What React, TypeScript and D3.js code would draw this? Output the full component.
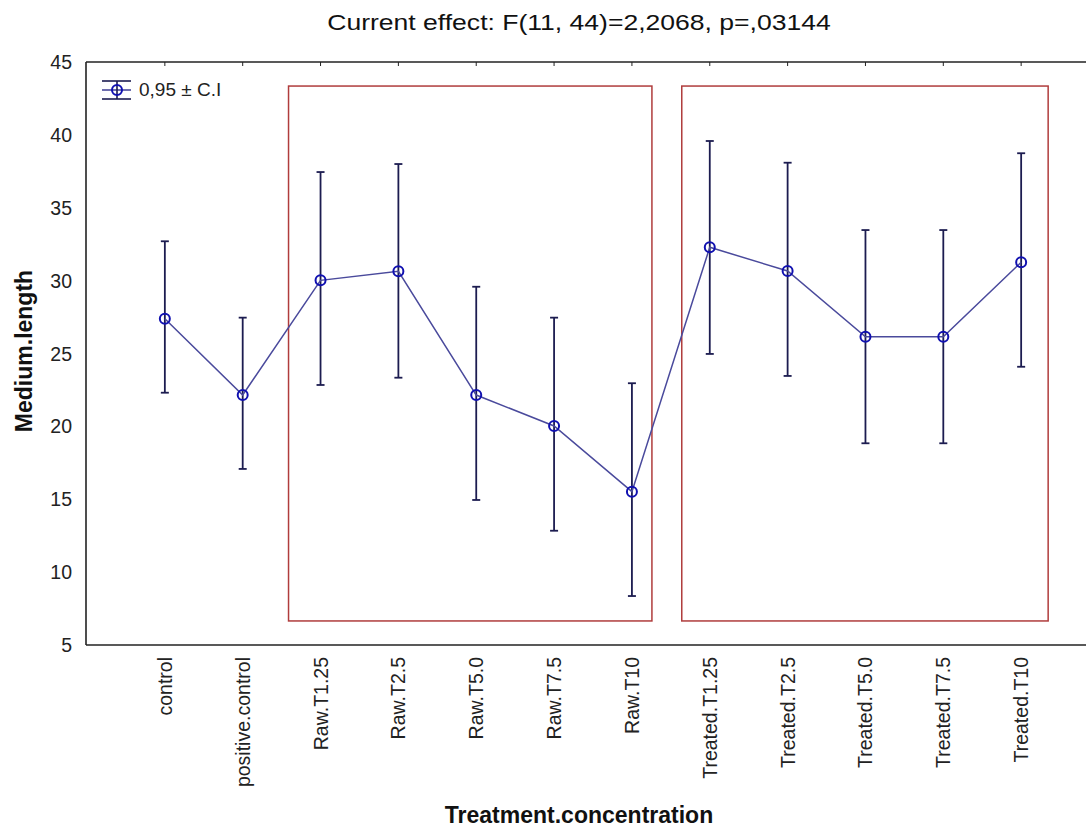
import React from "react";
import * as d3 from "d3";

const categories = [
  "control",
  "positive.control",
  "Raw.T1.25",
  "Raw.T2.5",
  "Raw.T5.0",
  "Raw.T7.5",
  "Raw.T10",
  "Treated.T1.25",
  "Treated.T2.5",
  "Treated.T5.0",
  "Treated.T7.5",
  "Treated.T10",
];
const means = [27.39, 22.15, 30.02, 30.64, 22.15, 20.03, 15.52, 32.29, 30.66, 26.15, 26.15, 31.26];
const upper = [32.7, 27.46, 37.45, 38.0, 29.58, 27.46, 22.96, 39.58, 38.09, 33.47, 33.47, 38.74];
const lower = [22.31, 17.08, 22.84, 23.34, 14.95, 12.84, 8.36, 24.97, 23.46, 18.84, 18.84, 24.09];
const yTicks = [5, 10, 15, 20, 25, 30, 35, 40, 45];
const groupBoxes = [
  { from: "Raw.T1.25", to: "Raw.T10", top: 43.35, bottom: 6.65 },
  { from: "Treated.T1.25", to: "Treated.T10", top: 43.35, bottom: 6.65 },
];
const title = "Current effect: F(11, 44)=2,2068, p=,03144";
const yLabel = "Medium.length";
const xLabel = "Treatment.concentration";
const legendLabel = "0,95 ± C.I";

const W = 1086;
const H = 827;
const left = 86;
const top = 62;
const bottom = 645;
const right = 1099;
const FONT = "'Liberation Sans', Arial, sans-serif";

export default function App() {
  const x = d3.scalePoint<string>().domain(categories).range([left + 1, right]).padding(1);
  const y = d3.scaleLinear().domain([5, 45]).range([bottom, top]);
  const line = d3
    .line<number>()
    .x((_, i) => x(categories[i]) as number)
    .y((d) => y(d));
  const lineColor = "#4a4a9c";
  const markColor = "#1010b0";
  const barColor = "#1c1c50";
  const boxColor = "#b03c3c";

  return (
    <svg
      width={W}
      height={H}
      style={{ position: "absolute", left: 0, top: 0, background: "#fff" }}
      fontFamily={FONT}
    >
      <rect x={0} y={0} width={W} height={H} fill="#fff" />
      {/* title */}
      <text
        transform="translate(579,30) scale(1.18,1)"
        textAnchor="middle"
        fontSize={22.5}
        fill="#111"
      >
        {title}
      </text>
      {/* group boxes */}
      {groupBoxes.map((b, i) => {
        const x0 = (x(b.from) as number) - 32;
        const x1 = (x(b.to) as number) + 20;
        const adj = i === 1 ? { l: 4, r: 7 } : { l: 0, r: 0 };
        return (
          <rect
            key={i}
            x={x0 + adj.l}
            y={y(b.top)}
            width={x1 - x0 - adj.l + adj.r}
            height={y(b.bottom) - y(b.top)}
            fill="none"
            stroke={boxColor}
            strokeWidth={1.5}
          />
        );
      })}
      {/* axes frame */}
      <line x1={left} x2={left} y1={top} y2={bottom} stroke="#222" strokeWidth={1.6} />
      <line x1={left} x2={W} y1={top} y2={top} stroke="#222" strokeWidth={1.6} />
      <line x1={left} x2={W} y1={bottom} y2={bottom} stroke="#222" strokeWidth={1.6} />
      {categories.map((c) => (
        <line key={"tt" + c} x1={x(c)} x2={x(c)} y1={top} y2={top + 4} stroke="#222" strokeWidth={1} />
      ))}
      {/* y ticks */}
      {yTicks.map((t) => (
        <text key={"yt" + t} x={72} y={y(t) + 7} textAnchor="end" fontSize={19.5} fill="#222">
          {t}
        </text>
      ))}
      {/* x tick labels */}
      {categories.map((c) => (
        <text
          key={"xl" + c}
          transform={`translate(${(x(c) as number) + 7},${bottom + 12}) rotate(-90)`}
          textAnchor="end"
          fontSize={19.5}
          fill="#222"
        >
          {c}
        </text>
      ))}
      {/* axis labels */}
      <text
        transform={`translate(32,351) rotate(-90)`}
        textAnchor="middle"
        fontSize={23}
        fontWeight="bold"
        fill="#111"
      >
        {yLabel}
      </text>
      <text x={579} y={823} textAnchor="middle" fontSize={23} fontWeight="bold" fill="#111">
        {xLabel}
      </text>
      {/* error bars */}
      {categories.map((c, i) => {
        const cx = x(c) as number;
        return (
          <g key={"eb" + c} stroke={barColor} strokeWidth={1.8}>
            <line x1={cx} x2={cx} y1={y(upper[i])} y2={y(lower[i])} />
            <line x1={cx - 4} x2={cx + 4} y1={y(upper[i])} y2={y(upper[i])} />
            <line x1={cx - 4} x2={cx + 4} y1={y(lower[i])} y2={y(lower[i])} />
          </g>
        );
      })}
      {/* mean line */}
      <path d={line(means) || ""} fill="none" stroke={lineColor} strokeWidth={1.5} />
      {categories.map((c, i) => (
        <circle
          key={"pt" + c}
          cx={x(c)}
          cy={y(means[i])}
          r={5}
          fill="none"
          stroke={markColor}
          strokeWidth={2}
        />
      ))}
      {/* legend */}
      <g>
        <line x1={102} x2={131} y1={81} y2={81} stroke={barColor} strokeWidth={1.6} />
        <line x1={102} x2={131} y1={99} y2={99} stroke={barColor} strokeWidth={1.6} />
        <line x1={102} x2={131} y1={90} y2={90} stroke={lineColor} strokeWidth={1.6} />
        <line x1={117} x2={117} y1={81} y2={99} stroke={barColor} strokeWidth={1.6} />
        <circle cx={117} cy={90} r={5} fill="none" stroke={markColor} strokeWidth={2} />
        <text x={139} y={96} fontSize={19} fill="#222">
          {legendLabel}
        </text>
      </g>
    </svg>
  );
}
